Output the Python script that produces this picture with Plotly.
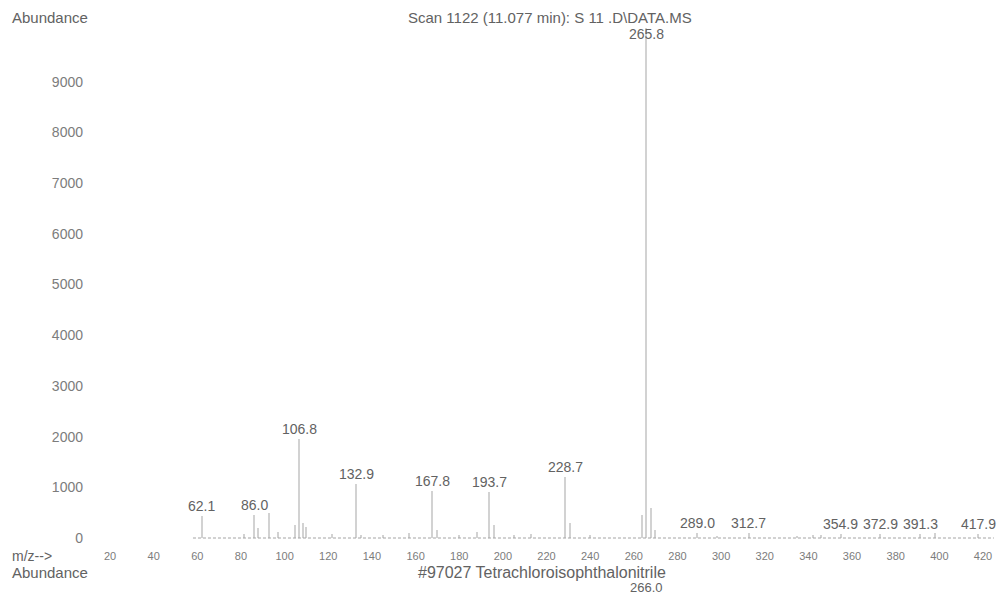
import plotly.graph_objects as go

# ---- spectrum data (scan 1122) ----
# labelled peaks: m/z and abundance
peak_mz = [62.1, 86.0, 106.8, 132.9, 167.8, 193.7, 228.7, 265.8,
           289.0, 312.7, 354.9, 372.9, 391.3, 417.9]
peak_abund = [430, 450, 1950, 1070, 930, 900, 1200, 10050,
              90, 90, 80, 80, 80, 80]
peak_labels = ["62.1", "86.0", "106.8", "132.9", "167.8", "193.7", "228.7", "265.8",
               "289.0", "312.7", "354.9", "372.9", "391.3", "417.9"]

# minor (unlabelled) ions near the baseline
minor_mz = [81.5, 88.0, 93.0, 97.0, 105.0, 108.5, 110.0, 122.0, 135.0,
            145.0, 157.0, 170.0, 180.0, 188.0, 196.0, 205.0, 213.0, 231.0,
            240.0, 263.8, 267.8, 270.0, 298.0, 335.0, 342.0, 346.0, 398.0]
minor_abund = [70, 200, 500, 120, 260, 300, 220, 80, 60,
               60, 90, 150, 60, 110, 250, 60, 80, 300,
               60, 450, 600, 150, 40, 40, 50, 60, 90]

scan_range = [58, 425]          # m/z range acquired
x_ticks = list(range(20, 421, 20))
y_ticks = list(range(0, 9001, 1000))

title_text = "Scan 1122 (11.077 min): S 11 .D\\DATA.MS"
library_text = "#97027 Tetrachloroisophthalonitrile"
library_peak = "266.0"

# ---- geometry helpers (pixel -> paper) ----
W, H = 1004, 595
ML, MR, MT, MB = 88, 4, 20, 47
PW, PH = W - ML - MR, H - MT - MB


def px(x):
    return (x - ML) / PW


def py(y):
    return (H - MB - y) / PH


FONT = "Liberation Sans, Arial, sans-serif"
TXT = "#626262"
TICK = "#7c7c7c"
BAR = "#d2d2d2"

fig = go.Figure()

# baseline of the scan
fig.add_trace(go.Scatter(
    x=scan_range, y=[0, 0], mode="lines",
    line=dict(color="#a4a4a4", width=1, dash="3px,2px"),
    hoverinfo="skip", showlegend=False))

# minor ions
fig.add_trace(go.Bar(
    x=minor_mz, y=minor_abund, width=0.6,
    marker=dict(color=BAR, line=dict(width=0)),
    showlegend=False))

# labelled ions
fig.add_trace(go.Bar(
    x=peak_mz, y=peak_abund, width=0.6,
    marker=dict(color=BAR, line=dict(width=0)),
    showlegend=False))

annotations = []
top_idx = peak_abund.index(max(peak_abund))
for i, (m, a, lab) in enumerate(zip(peak_mz, peak_abund, peak_labels)):
    if i == top_idx:
        # base peak: label sits at the top of the frame, over its own stick
        annotations.append(dict(x=m, y=a, xref="x", yref="y", text=lab,
                                showarrow=False, yanchor="top", yshift=4,
                                font=dict(family=FONT, size=14, color=TXT)))
    else:
        annotations.append(dict(x=m, y=a, xref="x", yref="y", text=lab,
                                showarrow=False, yanchor="bottom", yshift=0,
                                font=dict(family=FONT, size=14, color=TXT)))

# header / footer texts
annotations += [
    dict(x=px(10), y=py(17), xref="paper", yref="paper", text="Abundance",
         xanchor="left", yanchor="middle", showarrow=False,
         font=dict(family=FONT, size=15, color=TXT)),
    dict(x=px(550), y=py(17), xref="paper", yref="paper", text=title_text,
         xanchor="center", yanchor="middle", showarrow=False,
         font=dict(family=FONT, size=15, color=TXT)),
    dict(x=px(10), y=py(556), xref="paper", yref="paper", text="m/z-->",
         xanchor="left", yanchor="middle", showarrow=False,
         font=dict(family=FONT, size=14, color=TXT)),
    dict(x=px(10), y=py(572), xref="paper", yref="paper", text="Abundance",
         xanchor="left", yanchor="middle", showarrow=False,
         font=dict(family=FONT, size=15, color=TXT)),
    dict(x=px(542), y=py(572), xref="paper", yref="paper", text=library_text,
         xanchor="center", yanchor="middle", showarrow=False,
         font=dict(family=FONT, size=16, color=TXT)),
    dict(x=265.8, y=py(587), xref="x", yref="paper", text=library_peak,
         xanchor="center", yanchor="middle", showarrow=False,
         font=dict(family=FONT, size=13, color=TXT)),
]

fig.update_layout(
    width=W, height=H,
    margin=dict(l=ML, r=MR, t=MT, b=MB),
    paper_bgcolor="white", plot_bgcolor="white",
    bargap=0, showlegend=False,
    annotations=annotations,
    xaxis=dict(range=[9.9, 427.8], tickvals=x_ticks, ticktext=[str(v) for v in x_ticks],
               showgrid=False, zeroline=False, showline=False, ticks="",
               tickfont=dict(family=FONT, size=11, color=TICK)),
    yaxis=dict(range=[-197, 10217], tickvals=y_ticks, ticktext=[str(v) for v in y_ticks],
               showgrid=False, zeroline=False, showline=False, ticks="",
               ticklabelstandoff=4,
               tickfont=dict(family=FONT, size=14, color=TICK)),
)

fig.write_html("out.html")
